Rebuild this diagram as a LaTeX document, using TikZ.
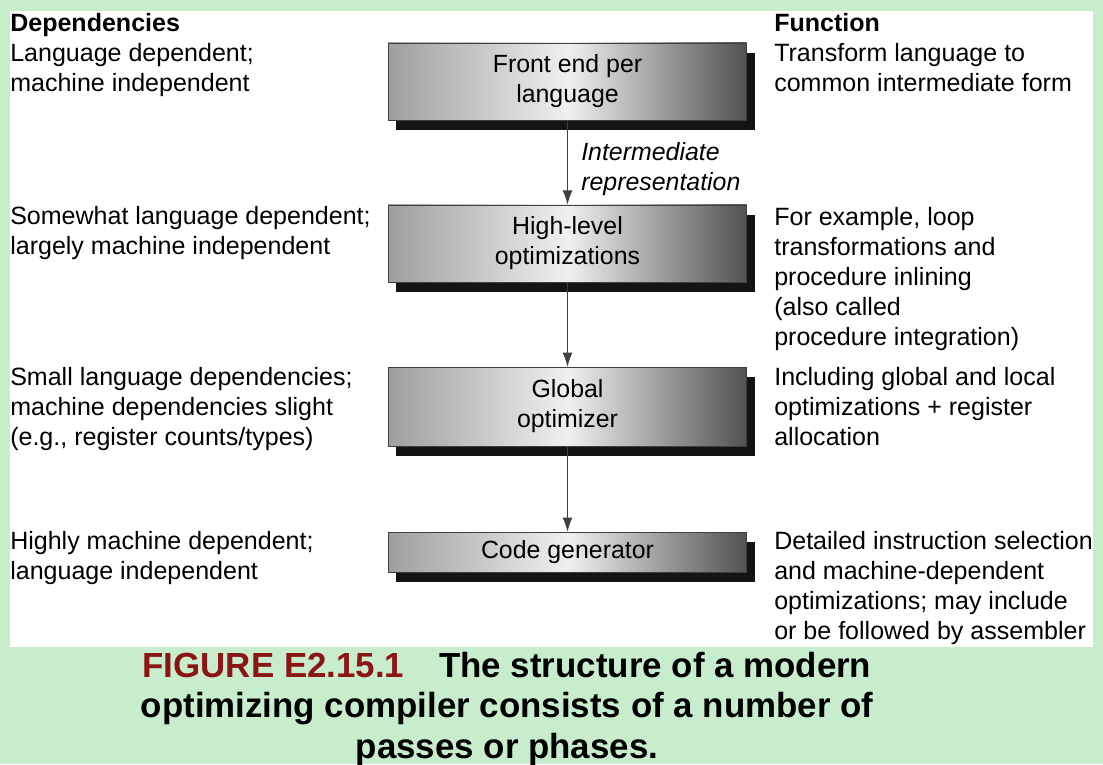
\documentclass[tikz,border=0pt]{standalone}
\usepackage{fontspec}
\setmainfont{Liberation Sans}
\usetikzlibrary{arrows.meta,shadows}

\definecolor{bggreen}{HTML}{C8EDCD}
\definecolor{figred}{HTML}{8B1414}

\tikzset{
    txt/.style={anchor=base west, align=left, inner sep=0pt,
        font=\fontsize{17.8}{21.3}\selectfont},
    phase/.style={draw=black!75, line width=0.5pt, inner sep=0pt,
        minimum width=8.95cm, align=center,
        left color=black!38, right color=black!68, middle color=white!94!black,
        general shadow={fill=black!92, shadow xshift=0.2cm, shadow yshift=-0.25cm},
        font=\fontsize{17.7}{21.3}\selectfont},
    flow/.style={draw=black!75, line width=0.6pt, -{Latex[length=10pt,width=7pt]}}
}

\begin{document}
\begin{tikzpicture}[x=0.025cm, y=-0.025cm]
    % Background
    \fill[bggreen] (0,0) rectangle (1103,764);
    \fill[white] (10,11) rectangle (1093,647);
    \useasboundingbox (0,0) rectangle (1103,764);

    % Columns (text nodes sit on the baseline of their last line)
    \def\xl{10}
    \def\xr{774}
    \def\xm{567.5}

    % Headings
    \node[txt, font=\fontsize{17.8}{21.3}\selectfont\bfseries] (hdep) at (\xl,31) {Dependencies};
    \node[txt, font=\fontsize{17.8}{21.3}\selectfont\bfseries] (hfun) at (\xr,31) {Function};

    % Phases
    \node[phase, minimum height=1.93cm] (fe) at (\xm,81.5) {Front end per\\language};
    \node[phase, minimum height=1.93cm] (hl) at (\xm,243.5) {High-level\\optimizations};
    \node[phase, minimum height=1.97cm] (go) at (\xm,406.5) {Global\\optimizer};
    \node[phase, minimum height=1.0cm] (cg) at (\xm,552) {Code generator};

    % Arrows
    \draw[flow] (fe.south) -- (hl.north);
    \draw[flow] (hl.south) -- (go.north);
    \draw[flow] (go.south) -- (cg.north);
    \node[txt, font=\fontsize{17.7}{21.3}\selectfont\itshape] (ir) at (581,190)
        {Intermediate\\representation};

    % Dependencies
    \node[txt] (d1) at (\xl,91) {Language dependent;\\machine independent};
    \node[txt] (d2) at (\xl,254) {Somewhat language dependent;\\largely machine independent};
    \node[txt] (d3) at (\xl,445) {Small language dependencies;\\machine dependencies slight\\(e.g., register counts/types)};
    \node[txt] (d4) at (\xl,579) {Highly machine dependent;\\language independent};

    % Functions
    \node[txt] (f1) at (\xr,91) {Transform language to\\common intermediate form};
    \node[txt] (f2) at (\xr,345) {For example, loop\\transformations and\\procedure inlining\\(also called\\procedure integration)};
    \node[txt] (f3) at (\xr,445) {Including global and local\\optimizations + register\\allocation};
    \node[txt] (f4) at (\xr,639) {Detailed instruction selection\\and machine-dependent\\optimizations; may include\\or be followed by assembler};

    % Caption
    \node[anchor=base, align=center, inner sep=0pt,
        font=\fontsize{24.8}{28.8}\selectfont\bfseries] (cap) at (507,758)
        {\textcolor{figred}{FIGURE E2.15.1}\quad The structure of a modern\\
         optimizing compiler consists of a number of\\
         passes or phases.};
\end{tikzpicture}
\end{document}
